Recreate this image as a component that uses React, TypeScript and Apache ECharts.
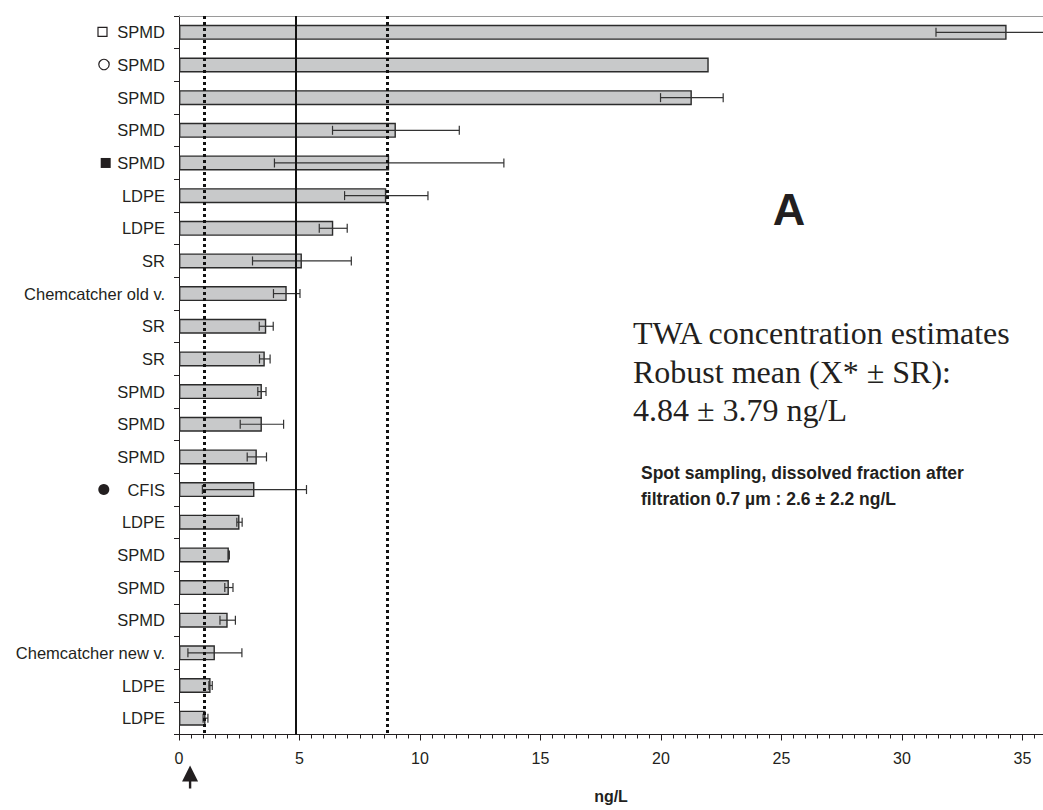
import React, { useEffect, useRef } from "react";
import * as echarts from "echarts";

// ---- data ----
const categories = [
  "SPMD", "SPMD", "SPMD", "SPMD", "SPMD", "LDPE", "LDPE", "SR",
  "Chemcatcher old v.", "SR", "SR", "SPMD", "SPMD", "SPMD", "CFIS", "LDPE",
  "SPMD", "SPMD", "SPMD", "Chemcatcher new v.", "LDPE", "LDPE",
];
const values = [
  34.34, 21.98, 21.28, 9.0, 8.72, 8.6, 6.4, 5.1, 4.47, 3.62, 3.56, 3.44, 3.44,
  3.23, 3.13, 2.51, 2.07, 2.07, 2.02, 1.49, 1.31, 1.1,
];
const errors = [
  2.93, 0, 1.3, 2.63, 4.76, 1.73, 0.58, 2.05, 0.55, 0.29, 0.22, 0.17, 0.9, 0.4,
  2.16, 0.11, 0.02, 0.17, 0.32, 1.12, 0.07, 0.1,
];
// marker drawn in front of label
const markers = [
  "emptySquare", "emptyCircle", "", "", "square", "", "", "", "", "", "", "",
  "", "", "circle", "", "", "", "", "", "", "",
];
const robustMean = 4.84;
const robustSR = 3.79;
const arrowValue = 0.46;
const xMin = 0;
const xMax = 35.85;
const xInterval = 5;
const xName = "ng/L";
const panelLetter = "A";
const twaLines = [
  "TWA concentration estimates",
  "Robust mean (X* \u00b1 SR):",
  "4.84 \u00b1 3.79 ng/L",
];
const spotLines = [
  "Spot sampling, dissolved fraction after",
  "filtration 0.7 \u00b5m : 2.6 \u00b1 2.2 ng/L",
];

const INK = "#231f20";
const SANS = '"Liberation Sans", Arial, Helvetica, sans-serif';
const SERIF = '"Liberation Serif", "Times New Roman", serif';

export default function App() {
  const ref = useRef<HTMLDivElement>(null);

  useEffect(() => {
    if (!ref.current) return;
    const chart = echarts.init(ref.current, undefined, { renderer: "svg" });

    const errData = values
      .map((v, i) => (errors[i] > 0 ? [i, v - errors[i], v + errors[i]] : null))
      .filter((d) => d !== null);

    const gridBottom = 75.5;

    chart.setOption({
      animation: false,
      backgroundColor: "#ffffff",
      grid: { left: 179, top: 16, right: 0, bottom: gridBottom, containLabel: false },
      xAxis: [
        {
          type: "value",
          min: xMin,
          max: xMax,
          interval: xInterval,
          position: "bottom",
          name: xName,
          nameLocation: "middle",
          nameGap: 54,
          nameTextStyle: { fontFamily: SANS, fontWeight: "bold", fontSize: 16, color: INK },
          axisLine: { show: true, lineStyle: { color: INK, width: 1 } },
          axisTick: { show: true, length: 6, inside: false, lineStyle: { color: INK, width: 1 } },
          minorTick: { show: true, splitNumber: 10, length: 4, lineStyle: { color: INK, width: 1 } },
          splitLine: { show: false },
          axisLabel: {
            fontFamily: SANS,
            fontSize: 16,
            color: INK,
            margin: 16,
            showMaxLabel: false,
            formatter: (v: number) => (Math.abs(v % xInterval) < 1e-9 ? String(v) : ""),
          },
        },
        {
          type: "value",
          min: xMin,
          max: xMax,
          position: "top",
          axisLine: { show: true, lineStyle: { color: "#9a9a9a", width: 1 } },
          axisTick: { show: false },
          axisLabel: { show: false },
          splitLine: { show: false },
        },
      ],
      yAxis: {
        type: "category",
        inverse: true,
        data: categories.map((_, i) => String(i)),
        axisLine: { show: true, lineStyle: { color: INK, width: 1 } },
        axisTick: { show: true, length: 5, alignWithLabel: false, lineStyle: { color: INK } },
        axisLabel: {
          fontFamily: SANS,
          fontSize: 16.5,
          color: INK,
          margin: 14,
          formatter: (_v: string, idx: number) => categories[idx],
        },
        splitLine: { show: false },
      },
      series: [
        {
          type: "bar",
          data: values,
          barWidth: 15,
          itemStyle: { color: "#c8c9ca", borderColor: "#2b2b2b", borderWidth: 1.4 },
          z: 2,
        },
        {
          type: "custom",
          data: errData,
          encode: { x: [1, 2], y: 0 },
          z: 4,
          renderItem: (_params: any, api: any) => {
            const i = api.value(0);
            const lo = api.coord([api.value(1), i]);
            const hi = api.coord([api.value(2), i]);
            const h = 4.5;
            const st = { stroke: "#333333", lineWidth: 1.2 };
            return {
              type: "group",
              children: [
                { type: "line", shape: { x1: lo[0], y1: lo[1], x2: hi[0], y2: hi[1] }, style: st },
                { type: "line", shape: { x1: lo[0], y1: lo[1] - h, x2: lo[0], y2: lo[1] + h }, style: st },
                { type: "line", shape: { x1: hi[0], y1: hi[1] - h, x2: hi[0], y2: hi[1] + h }, style: st },
              ],
            };
          },
          markLine: {
            silent: true,
            symbol: "none",
            label: { show: false },
            z: 6,
            data: [
              { xAxis: robustMean, lineStyle: { color: "#111111", width: 2, type: "solid" } },
              { xAxis: robustMean - robustSR, lineStyle: { color: "#111111", width: 3, type: [3, 3] } },
              { xAxis: robustMean + robustSR, lineStyle: { color: "#111111", width: 3, type: [3, 3] } },
            ],
          },
        },
      ],
    });

    // annotations positioned from axis conversions
    const graphics: any[] = [];
    const markerX: Record<string, number> = {
      emptySquare: 102.5,
      emptyCircle: 104,
      square: 105.7,
      circle: 103.8,
    };
    markers.forEach((m, i) => {
      if (!m) return;
      const y = chart.convertToPixel({ yAxisIndex: 0 }, i) as number;
      const cx = markerX[m];
      if (m === "emptySquare") {
        graphics.push({ type: "rect", shape: { x: cx - 4.5, y: y - 5, width: 9, height: 9 }, style: { fill: "none", stroke: INK, lineWidth: 1.2 } });
      } else if (m === "emptyCircle") {
        graphics.push({ type: "circle", shape: { cx, cy: y - 0.5, r: 5.2 }, style: { fill: "none", stroke: INK, lineWidth: 1.2 } });
      } else if (m === "square") {
        graphics.push({ type: "rect", shape: { x: cx - 5, y: y - 5, width: 10, height: 10 }, style: { fill: INK } });
      } else if (m === "circle") {
        graphics.push({ type: "circle", shape: { cx, cy: y, r: 5.5 }, style: { fill: INK } });
      }
    });

    const axisY = 810 - gridBottom;
    const ax = chart.convertToPixel({ xAxisIndex: 0 }, arrowValue) as number;
    graphics.push({
      type: "polygon",
      shape: { points: [[ax, axisY + 31], [ax - 8, axisY + 47], [ax + 8, axisY + 47]] },
      style: { fill: INK },
    });
    graphics.push({
      type: "rect",
      shape: { x: ax - 1.2, y: axisY + 46, width: 2.4, height: 8 },
      style: { fill: INK },
    });

    graphics.push({
      type: "text",
      x: 789,
      y: 209,
      style: { text: panelLetter, font: `bold 45px ${SANS}`, fill: INK, align: "center", verticalAlign: "middle" },
    });
    const twaCenters = [333.2, 371.9, 409.9];
    twaLines.forEach((t, i) => {
      graphics.push({
        type: "text",
        x: 633,
        y: twaCenters[i],
        style: { text: t, font: `32px ${SERIF}`, fill: INK, align: "left", verticalAlign: "middle" },
      });
    });
    const spotCenters = [473, 499];
    spotLines.forEach((t, i) => {
      graphics.push({
        type: "text",
        x: 641,
        y: spotCenters[i],
        style: { text: t, font: `bold 17.5px ${SANS}`, fill: INK, align: "left", verticalAlign: "middle" },
      });
    });

    chart.setOption({ graphic: graphics });

    return () => chart.dispose();
  }, []);

  return (
    <div
      ref={ref}
      style={{ position: "fixed", left: 0, top: 0, width: 1043, height: 810, background: "#fff" }}
    />
  );
}
